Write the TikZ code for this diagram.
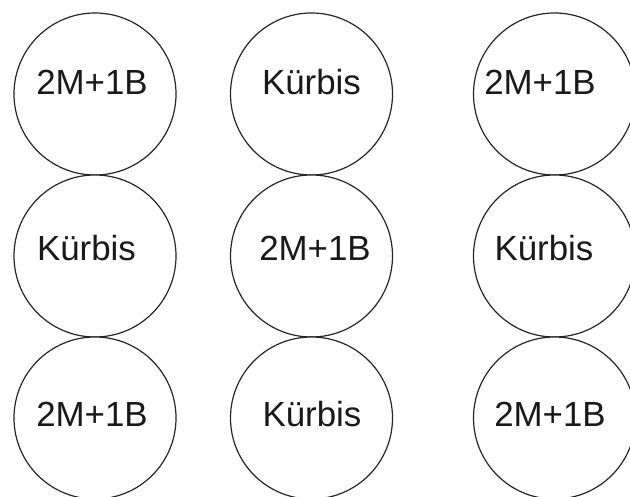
\documentclass[tikz,border=0pt]{standalone}
\usepackage{fontspec}
\setmainfont{Liberation Sans}
\begin{document}
\begin{tikzpicture}[x=1bp,y=-1bp,
  ring/.style={draw=black!85,line width=1.2bp,circle,minimum size=162bp,inner sep=0pt,fill=white},
  lbl/.style={anchor=base,inner sep=0pt,font=\fontsize{35}{40}\selectfont,text=black!90}]
\useasboundingbox[fill=white] (0,0) rectangle (630,497);
\node[ring] (c11) at (95,94) {};
\node[ring] (c12) at (311.5,94) {};
\node[ring] (c13) at (554.5,94) {};
\node[ring] (c21) at (95,256) {};
\node[ring] (c22) at (311.5,256) {};
\node[ring] (c23) at (554.5,256) {};
\node[ring] (c31) at (95,418) {};
\node[ring] (c32) at (311.5,418) {};
\node[ring] (c33) at (554.5,418) {};
\node[lbl] (t11) at (92,95) {2M+1B};
\node[lbl] (t12) at (311.5,95) {Kürbis};
\node[lbl] (t13) at (540,95) {2M+1B};
\node[lbl] (t21) at (86.5,260) {Kürbis};
\node[lbl] (t22) at (315,260) {2M+1B};
\node[lbl] (t23) at (544,260) {Kürbis};
\node[lbl] (t31) at (92,426) {2M+1B};
\node[lbl] (t32) at (312,426) {Kürbis};
\node[lbl] (t33) at (550,426) {2M+1B};
\end{tikzpicture}
\end{document}
